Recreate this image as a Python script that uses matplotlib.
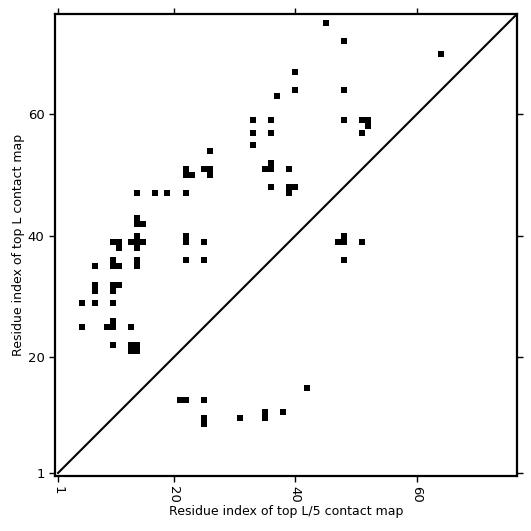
import matplotlib
matplotlib.use("Agg")
import matplotlib.pyplot as plt

# protein length and tick labels
L = 76
ticks = [1, 20, 40, 60]

# residue pairs (i, j) of the contacts
res_i = [14, 17, 19, 22,
         14, 14, 15,
         14, 13, 14, 15, 14,
         10, 11, 11,
         14, 14,
         10, 10, 11,
         7,
         22, 22, 25,
         22, 25,
         7, 7,
         10, 11, 10,
         5, 7, 10,
         5, 10, 10, 9, 13,
         10, 13, 14, 13, 14,
         26, 22, 22, 23, 25, 26, 26,
         45, 48, 40, 40, 48, 37,
         33, 36, 48, 51, 52, 52,
         51, 33, 36, 33,
         36, 36, 35, 39,
         36, 39, 40, 39,
         64,
         48, 48, 47, 51, 48,
         21, 22, 25, 25, 25, 31, 35, 35, 38, 42]
res_j = [47, 47, 47, 47,
         43, 42, 42,
         40, 39, 39, 39, 38,
         39, 39, 38,
         36, 35,
         36, 35, 35,
         35,
         40, 39, 39,
         36, 36,
         32, 31,
         32, 32, 31,
         29, 29, 29,
         25, 26, 25, 25, 25,
         22, 22, 22, 21, 21,
         54, 51, 50, 50, 51, 51, 50,
         75, 72, 67, 64, 64, 63,
         59, 59, 59, 59, 59, 58,
         57, 57, 57, 55,
         52, 51, 51, 51,
         48, 48, 48, 47,
         70,
         40, 39, 39, 39, 36,
         13, 13, 13, 10, 9, 10, 11, 10, 11, 15]

fig = plt.figure(figsize=(5.31, 5.31), dpi=100)
ax = fig.add_axes([55/531, 55/531, 462/531, 462/531])

lo, hi = 0.5, L + 0.5
ax.set_xlim(lo, hi)
ax.set_ylim(lo, hi)

# one cell = one residue, marker side in points
cell_pt = (462 / L) * 72 / 100
ax.scatter(res_i, res_j, marker="s", s=cell_pt**2, color="black", linewidths=0)
ax.plot([1, hi], [1, hi], color="black", lw=1.5)

ax.set_xticks(ticks)
ax.set_yticks(ticks)
ax.set_xticklabels([str(t) for t in ticks], rotation=270)
ax.set_yticklabels([str(t) for t in ticks])
ax.tick_params(direction="out", top=True, right=True, length=4, width=1, labelsize=9.5)
for sp in ax.spines.values():
    sp.set_linewidth(1.6)

ax.set_xlabel("Residue index of top L/5 contact map", fontsize=9, labelpad=1)
ax.set_ylabel("Residue index of top L contact map", fontsize=9, labelpad=2)

fig.savefig("out.png", dpi=100)
